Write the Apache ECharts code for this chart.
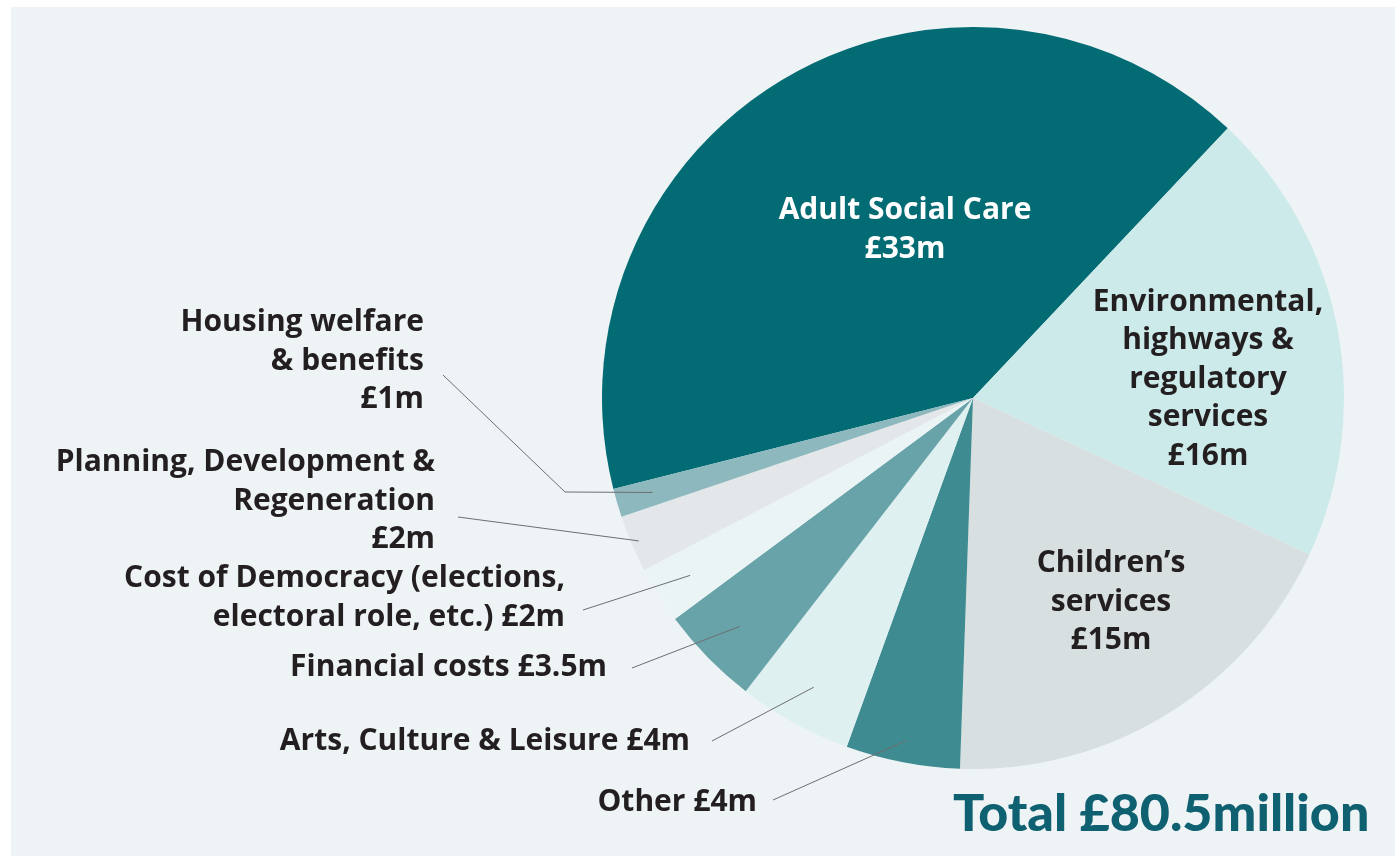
<!DOCTYPE html>
<html><head><meta charset="utf-8">
<script src="https://cdn.jsdelivr.net/npm/echarts@6/dist/echarts.min.js"></script>
<style>
html,body{margin:0;padding:0;background:#ffffff;width:1395px;height:856px;overflow:hidden}
#bg{position:absolute;left:11px;top:7px;right:0;bottom:0;background:#eef3f6}
#chart{position:absolute;left:0;top:0;width:1395px;height:856px}
</style></head><body><div id="bg"></div><div id="chart"></div>
<script>
// ---- data ----
const categories = [
  'Adult Social Care',
  'Environmental, highways & regulatory services',
  "Children’s services",
  'Other',
  'Arts, Culture & Leisure',
  'Financial costs',
  'Cost of Democracy (elections, electoral role, etc.)',
  'Planning, Development & Regeneration',
  'Housing welfare & benefits'
];
const values = [33, 16, 15, 4, 4, 3.5, 2, 2, 1];
const labelTexts = [
  'Adult Social Care\n£33m',
  'Environmental,\nhighways &\nregulatory\nservices\n£16m',
  'Children’s\nservices\n£15m',
  'Other £4m',
  'Arts, Culture & Leisure £4m',
  'Financial costs £3.5m',
  'Cost of Democracy (elections,\nelectoral role, etc.) £2m',
  'Planning, Development &\nRegeneration\n£2m',
  'Housing welfare\n& benefits\n£1m'
];
const totalLabel = 'Total £80.5million';

// ---- styles ----
const colors = ['#036b73', '#cdeaea', '#d8dfe0', '#3e8c91', '#dff0f1', '#67a3a8', '#eaf4f5', '#e3e7e9', '#8db8bd'];
const FONT = '"Open Sans", Lato, sans-serif';
const CX = 973, CY = 398, R = 371, START = 194.2;
// label placement (layout only)
const place = [
  {inside: true, x: 905, y: 230, color: '#ffffff'},
  {inside: true, x: 1208, y: 379, color: '#231f20'},
  {inside: true, x: 1111, y: 602, color: '#231f20'},
  {x: 757, y: 802, lx: 773, ly: 800, r: 0.94},
  {x: 690, y: 741, lx: 712, ly: 741, r: 0.89},
  {x: 607, y: 667, lx: 632, ly: 668, r: 0.88},
  {x: 565, y: 598, lx: 583, ly: 610, r: 0.90},
  {x: 435, y: 501, lx: 458, ly: 517, r: 0.98},
  {x: 424, y: 361, lx: 443, ly: 375, r: 0.90, elbow: [565, 492]}
];

const total = values.reduce((a, b) => a + b, 0);
function midAngle(i) {
  let cum = 0;
  for (let k = 0; k < i; k++) cum += values[k];
  return (-START + (cum + values[i] / 2) / total * 360) * Math.PI / 180;
}

// leader lines from each outside label into its slice (inner end at slice mid-angle)
const leaders = [];
place.forEach((p, i) => {
  if (p.inside) return;
  const a = midAngle(i);
  const inner = [CX + R * p.r * Math.cos(a), CY + R * p.r * Math.sin(a)];
  const pts = p.elbow ? [[p.lx, p.ly], p.elbow, inner] : [[p.lx, p.ly], inner];
  leaders.push({
    type: 'polyline', z: 100, silent: true,
    shape: {points: pts},
    style: {stroke: '#6d6e71', lineWidth: 1, fill: null}
  });
});

const chart = echarts.init(document.getElementById('chart'), null, {renderer: 'canvas'});
chart.setOption({
  backgroundColor: 'transparent',
  animation: false,
  graphic: [{
    type: 'text', left: 953, top: 788,
    style: {text: totalLabel, fill: '#0f6070', font: '900 52px Lato, sans-serif'}
  }].concat(leaders),
  series: [{
    type: 'pie',
    center: [CX, CY],
    radius: [0, R],
    startAngle: START,
    clockwise: true,
    avoidLabelOverlap: false,
    silent: true,
    itemStyle: {borderWidth: 0},
    label: {
      show: true,
      fontFamily: FONT, fontWeight: 'bold', fontSize: 30, lineHeight: 38.5,
      color: '#231f20'
    },
    labelLine: {show: false},
    labelLayout: function (params) {
      const p = place[params.dataIndex];
      return p.inside
        ? {x: p.x, y: p.y, align: 'center', verticalAlign: 'middle'}
        : {x: p.x, y: p.y, align: 'right', verticalAlign: 'middle'};
    },
    data: categories.map((name, i) => ({
      name: name,
      value: values[i],
      itemStyle: {color: colors[i]},
      label: place[i].inside
        ? {position: 'inside', formatter: labelTexts[i], color: place[i].color}
        : {position: 'outside', formatter: labelTexts[i]}
    }))
  }]
});
</script></body></html>
